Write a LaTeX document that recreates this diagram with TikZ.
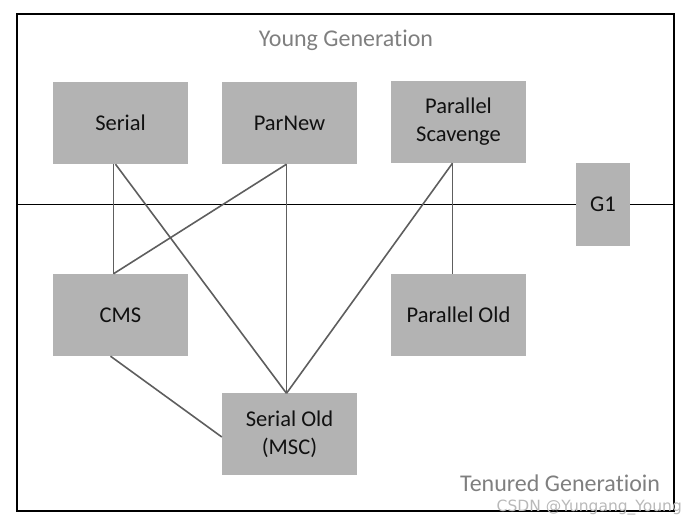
\documentclass[tikz,border=0pt]{standalone}
\usepackage{fontspec}
\setmainfont[Ligatures=NoCommon]{Carlito}
\newfontfamily\wmfont{DejaVu Sans}
\definecolor{boxgray}{HTML}{B3B3B3}
\definecolor{linkgray}{HTML}{5E5E5E}
\definecolor{labelgray}{HTML}{7F7F7F}
\definecolor{txtdark}{HTML}{111111}
\begin{document}
\begin{tikzpicture}[x=1pt,y=-1pt,
  gcbox/.style={fill=boxgray,draw=none,minimum width=135pt,minimum height=82pt,inner sep=0pt,
    align=center,font=\fontsize{22.5}{28}\selectfont,text=txtdark},
  link/.style={draw=linkgray,line width=1.6pt},
  genlabel/.style={font=\fontsize{24}{28}\selectfont,text=labelgray,inner sep=0pt}]
\useasboundingbox (0,0) rectangle (697,529);
\draw[line width=1.2pt] (17,14) rectangle (674,511);
\coordinate (ml) at (17,205);
\coordinate (mr) at (674,205);
\draw[line width=1pt] (ml) -- (mr);
\node[genlabel,anchor=base] (young) at (346,47) {Young Generation};
\node[genlabel,anchor=base west] (tenured) at (460,492) {Tenured Generatioin};
\node[gcbox] (serial) at (120.5,123) {Serial};
\node[gcbox] (parnew) at (289.5,123) {ParNew};
\node[gcbox] (ps) at (458.5,122) {Parallel\\Scavenge};
\node[gcbox,minimum width=54pt,minimum height=83pt] (g1) at (603,204.5) {G1};
\node[gcbox] (cms) at (120.5,315) {CMS};
\node[gcbox] (parold) at (458.5,315) {Parallel Old};
\node[gcbox] (serialold) at (289.5,434.5) {Serial Old\\(MSC)};
\draw[link] ([xshift=-7pt]serial.south) -- ([xshift=-7pt]cms.north);
\draw[link] ([xshift=-5pt]serial.south) -- ([xshift=-3pt]serialold.north);
\draw[link] ([xshift=-3pt]parnew.south) -- ([xshift=-7pt]cms.north);
\draw[link] ([xshift=-3pt]parnew.south) -- ([xshift=-3pt]serialold.north);
\draw[link] ([xshift=-6pt]ps.south) -- ([xshift=-6pt]parold.north);
\draw[link] ([xshift=-6pt]ps.south) -- ([xshift=-3pt]serialold.north);
\draw[link] ([xshift=-10pt]cms.south) -- ([yshift=-2.5pt]serialold.west);
\node[anchor=base east,inner sep=0pt,font=\wmfont\fontsize{15.5}{18}\selectfont,text=gray!55] (wm) at (682,512) {CSDN @Yungang\_Young};
\end{tikzpicture}
\end{document}
